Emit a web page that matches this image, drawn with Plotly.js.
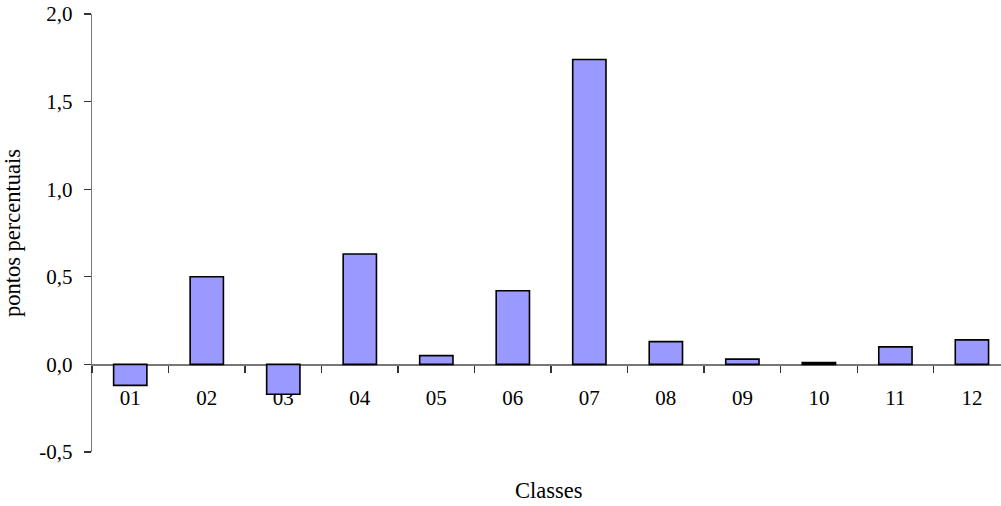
<!DOCTYPE html>
<html>
<head>
<meta charset="utf-8">
<script src="https://cdn.plot.ly/plotly-3.0.1.min.js"></script>
<style>html,body{margin:0;padding:0;background:#fff;}#chart{width:1001px;height:506px;}</style>
</head>
<body>
<div id="chart"></div>
<script>
const categories = ["01","02","03","04","05","06","07","08","09","10","11","12"];
const values = [-0.12, 0.50, -0.17, 0.63, 0.05, 0.42, 1.74, 0.13, 0.03, 0.01, 0.10, 0.14];
const yTickVals = [-0.5, 0.0, 0.5, 1.0, 1.5, 2.0];
const yTickText = ["-0,5", "0,0", "0,5", "1,0", "1,5", "2,0"];
const yTitle = "pontos percentuais";
const xTitle = "Classes";

const FONT = "'Liberation Serif'";

const trace = {
  type: "bar",
  x: categories,
  y: values,
  width: 0.435,
  marker: { color: "#9999FF", line: { color: "#000000", width: 1.6 } },
  hoverinfo: "x+y"
};

const layout = {
  width: 1001, height: 506,
  margin: { l: 92, r: 0, t: 14, b: 54 },
  paper_bgcolor: "#ffffff", plot_bgcolor: "#ffffff",
  showlegend: false,
  bargap: 0.565,
  font: { family: FONT, size: 21, color: "#000" },
  xaxis: {
    type: "category",
    range: [-0.5, 11.38],
    anchor: "free",
    position: 0.2,
    layer: "below traces",
    showline: true, linecolor: "#777", linewidth: 1.3,
    showgrid: false, zeroline: false,
    ticks: "outside", tickson: "boundaries", ticklen: 7, tickcolor: "#333", tickwidth: 1.3,
    tickfont: { family: FONT, size: 21, color: "#000" },
    ticklabelstandoff: 14
  },
  yaxis: {
    range: [-0.5, 2.0],
    tickvals: yTickVals, ticktext: yTickText,
    layer: "below traces",
    showline: true, linecolor: "#777", linewidth: 1.3,
    showgrid: false, zeroline: false,
    ticks: "outside", ticklen: 7, tickcolor: "#333", tickwidth: 1.3,
    tickfont: { family: FONT, size: 21, color: "#000" },
    ticklabelstandoff: 7,
    title: { text: yTitle, font: { family: FONT, size: 22.5, color: "#000" }, standoff: 12 }
  },
  annotations: [{
    text: xTitle, xref: "paper", yref: "paper",
    x: 0.503, y: 0, yshift: -38, xanchor: "center", yanchor: "middle",
    showarrow: false, font: { family: FONT, size: 22.5, color: "#000" }
  }]
};

Plotly.newPlot("chart", [trace], layout, { displayModeBar: false, staticPlot: true });
</script>
</body>
</html>
